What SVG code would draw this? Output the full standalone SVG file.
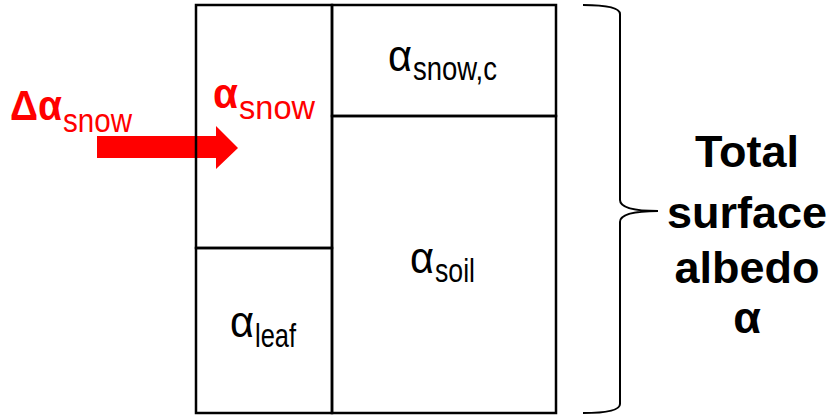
<svg xmlns="http://www.w3.org/2000/svg" width="832" height="417" viewBox="0 0 832 417">
<style>
.box{fill:none;stroke:#000;stroke-width:2.5}
.sym{font-family:"Liberation Sans",Arial,sans-serif;font-size:45px;fill:#000}
.sub{font-family:"Liberation Sans",Arial,sans-serif;font-size:33px;fill:#000}
.red{fill:#ff0000}
.bold{font-weight:bold}
.big{font-size:42px}
.title{font-family:"Liberation Sans",Arial,sans-serif;font-size:45px;font-weight:bold;fill:#000;text-anchor:middle}
</style>
<rect width="832" height="417" fill="#fff"/>
<g id="connectors">
  <polygon id="arrow" points="97,136 216,136 216,126 238,148 216,169 216,158 97,158" fill="#ff0000"/>
  <path id="brace" d="M583,5 Q620,5 620,14 L620,200 Q620,211 658,211 Q620,211 620,222 L620,404 Q620,413 583,413" fill="none" stroke="#000" stroke-width="2"/>
</g>
<g id="delta-snow">
  <text class="sym big red bold" x="10" y="120" textLength="52" lengthAdjust="spacingAndGlyphs">Δα</text>
  <text class="sub red" x="63" y="132" textLength="69" lengthAdjust="spacingAndGlyphs">snow</text>
</g>
<g id="node-snow">
  <rect class="box" x="196" y="5" width="136" height="243"/>
  <text class="sym big red bold" x="213" y="108" textLength="25" lengthAdjust="spacingAndGlyphs">α</text>
  <text class="sub red" x="239" y="119" textLength="76" lengthAdjust="spacingAndGlyphs">snow</text>
</g>
<g id="node-leaf">
  <rect class="box" x="196" y="248" width="136" height="165"/>
  <text class="sym" x="230" y="337" textLength="24" lengthAdjust="spacingAndGlyphs">α</text>
  <text class="sub" x="255" y="347" textLength="41" lengthAdjust="spacingAndGlyphs">leaf</text>
</g>
<g id="node-snowc">
  <rect class="box" x="332" y="5" width="224" height="111"/>
  <text class="sym" x="388" y="71" textLength="24" lengthAdjust="spacingAndGlyphs">α</text>
  <text class="sub" x="413" y="80" textLength="84" lengthAdjust="spacingAndGlyphs">snow,c</text>
</g>
<g id="node-soil">
  <rect class="box" x="332" y="116" width="224" height="297"/>
  <text class="sym" x="410" y="273" textLength="24" lengthAdjust="spacingAndGlyphs">α</text>
  <text class="sub" x="435" y="282" textLength="40" lengthAdjust="spacingAndGlyphs">soil</text>
</g>
<g id="total">
  <text class="title" x="747" y="167">Total</text>
  <text class="title" x="747" y="228">surface</text>
  <text class="title" x="747" y="283">albedo</text>
  <text class="title" x="747" y="333">α</text>
</g>
</svg>
